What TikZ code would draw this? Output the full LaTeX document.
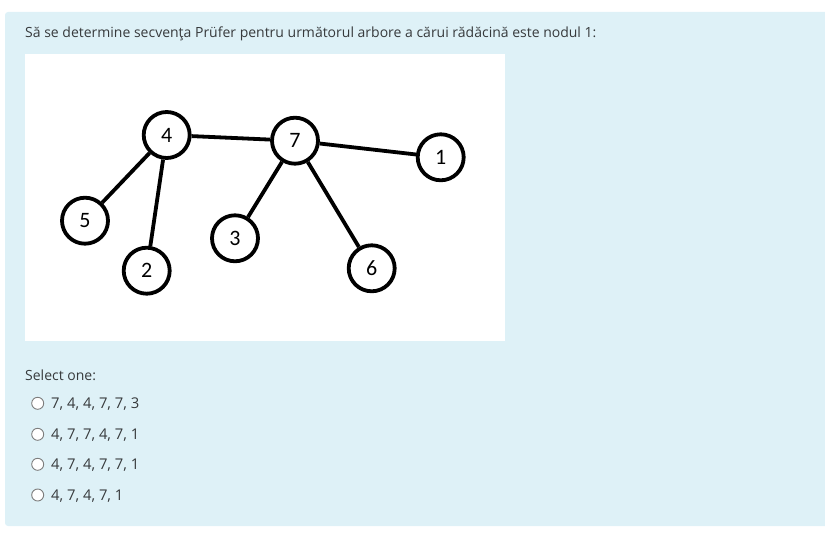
\documentclass[tikz,border=0pt]{standalone}
\usepackage{fontspec}
\setmainfont{Open Sans}
\newfontfamily\digitfont{Carlito}
\definecolor{panelblue}{RGB}{222,241,247}
\definecolor{textgray}{RGB}{55,58,60}
\definecolor{radiogray}{RGB}{125,125,125}

\begin{document}
\begin{tikzpicture}[x=1pt,y=-1pt,
    vertex/.style={circle, draw=black, line width=3.8pt, fill=white, minimum size=46pt, inner sep=0pt,
        font=\digitfont\fontsize{22}{22}\selectfont},
    edge/.style={line width=3.8pt},
    radio/.style={circle, draw=radiogray, fill=white, line width=0.9pt, minimum size=12pt, inner sep=0pt},
    qtext/.style={anchor=base west, inner sep=0pt, text=textgray, font=\fontsize{14}{16}\selectfont},
    anstext/.style={qtext, font=\fontsize{14.8}{16}\selectfont}]
    \useasboundingbox (0,0) rectangle (825,559);
    % question panel and picture area
    \fill[panelblue, rounded corners=3pt] (5,12) rectangle (830,526);
    \fill[white] (25,54) rectangle (505,341);
    \node[qtext] (title) at (25,37.8) {Să se determine secvenţa Prüfer pentru următorul arbore a cărui rădăcină este nodul 1:};
    % the tree
    \node[vertex] (n4) at (166.7,135) {4};
    \node[vertex] (n7) at (295,140.7) {7};
    \node[vertex] (n1) at (440.7,157.3) {1};
    \node[vertex] (n5) at (85,220.7) {5};
    \node[vertex] (n2) at (146.7,270.7) {2};
    \node[vertex] (n3) at (235,238.3) {3};
    \node[vertex] (n6) at (371.7,268.3) {6};
    \draw[edge] (n4) -- (n7);
    \draw[edge] (n7) -- (n1);
    \draw[edge] (n4) -- (n5);
    \draw[edge] (n4) -- (n2);
    \draw[edge] (n7) -- (n3);
    \draw[edge] (n7) -- (n6);
    % answers
    \node[qtext] (select) at (25,380.8) {Select one:};
    \foreach \y/\ans [count=\i] in {403.3/{7, 4, 4, 7, 7, 3}, 434.3/{4, 7, 7, 4, 7, 1}, 464.3/{4, 7, 4, 7, 7, 1}, 495/{4, 7, 4, 7, 1}}{
        \node[radio] (radio\i) at (37.7,\y) {};
        \node[anstext] (ans\i) at (51,\y+5) {\ans};
    }
\end{tikzpicture}
\end{document}
